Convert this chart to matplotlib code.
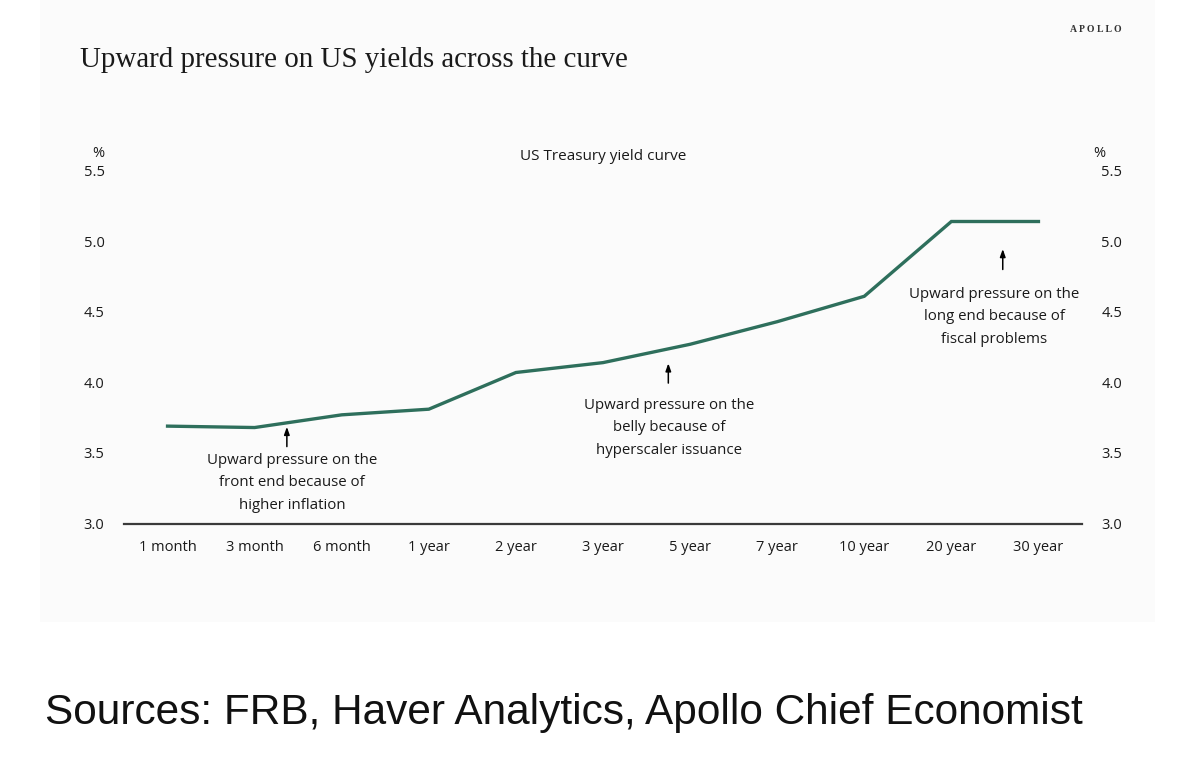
import matplotlib
matplotlib.use("Agg")
import matplotlib.pyplot as plt
from matplotlib.patches import Rectangle

# tenors and yields (%)
tenors = ["1 month", "3 month", "6 month", "1 year", "2 year", "3 year",
          "5 year", "7 year", "10 year", "20 year", "30 year"]
yields = [3.69, 3.68, 3.77, 3.81, 4.07, 4.14, 4.27, 4.43, 4.61, 5.14, 5.14]
y_ticks = [3.0, 3.5, 4.0, 4.5, 5.0, 5.5]
y_tick_labels = ["3.0", "3.5", "4.0", "4.5", "5.0", "5.5"]

line_color = "#2e6f5c"
text_color = "#1a1a1a"
sans = ["Open Sans", "DejaVu Sans"]

fig = plt.figure(figsize=(12, 7.81), dpi=100)
fig.patch.set_facecolor("white")

# faint panel behind the chart
fig.patches.append(Rectangle((40 / 1200, 1 - 622 / 781), 1115 / 1200, 622 / 781,
                             transform=fig.transFigure, facecolor="#fbfbfb",
                             edgecolor="none", zorder=-10))

ax = fig.add_axes([124 / 1200, 1 - 523.5 / 781, 958 / 1200, 352.8 / 781])
ax.set_facecolor("none")

x = list(range(len(tenors)))
ax.plot(x, yields, color=line_color, lw=2.4, solid_joinstyle="miter")

ax.set_xlim(-0.5, 10.5)
ax.set_ylim(3.0, 5.5)
for s in ["top", "right", "left"]:
    ax.spines[s].set_visible(False)
ax.spines["bottom"].set_color("#3a3a3a")
ax.spines["bottom"].set_linewidth(1.6)

ax.set_xticks(x)
ax.set_xticklabels(tenors, fontfamily=sans, fontsize=10.5, color=text_color)
ax.set_yticks(y_ticks)
ax.set_yticklabels(y_tick_labels, fontfamily=sans, fontsize=10.5, color=text_color)
ax.tick_params(axis="x", length=0, pad=12)
ax.tick_params(axis="y", length=0, pad=14, labelleft=True, labelright=True)

# percent markers above the y axes
ax.text(-0.02, 1.05, "%", transform=ax.transAxes, ha="right", va="center",
        fontfamily=sans, fontsize=10.5, color=text_color)
ax.text(1.012, 1.05, "%", transform=ax.transAxes, ha="left", va="center",
        fontfamily=sans, fontsize=10.5, color=text_color)

ax.text(0.5, 1.04, "US Treasury yield curve", transform=ax.transAxes,
        ha="center", va="center", fontfamily=sans, fontsize=11, color=text_color)

# annotations: arrow x, arrow bottom, arrow tip, text x, middle-line y
arrow = dict(arrowstyle="-|>,head_width=0.16,head_length=0.45", color="black",
             lw=1.1, shrinkA=0, shrinkB=0)
notes = [
    (1.37, 3.545, 3.685, 1.43, 3.287,
     "Upward pressure on the\nfront end because of\nhigher inflation"),
    (5.75, 3.995, 4.135, 5.76, 3.677,
     "Upward pressure on the\nbelly because of\nhyperscaler issuance"),
    (9.59, 4.80, 4.945, 9.49, 4.465,
     "Upward pressure on the\nlong end because of\nfiscal problems"),
]
for ax_x, y0, y1, tx, ty, txt in notes:
    ax.annotate("", xy=(ax_x, y1), xytext=(ax_x, y0), arrowprops=arrow)
    ax.text(tx, ty, txt, ha="center", va="center", multialignment="center",
            fontfamily=sans, fontsize=10.8, color=text_color, linespacing=1.68)

# title, logo, source
fig.text(80 / 1200, 1 - 60 / 781, "Upward pressure on US yields across the curve",
         ha="left", va="center", fontfamily="Liberation Serif", fontsize=20.9,
         color=text_color)
fig.text(1122 / 1200, 1 - 29 / 781, "A P O L L O", ha="right", va="center",
         fontfamily="Liberation Serif", fontsize=7, fontweight="bold",
         color="#333333")
fig.text(45 / 1200, 1 - 713 / 781,
         "Sources: FRB, Haver Analytics, Apollo Chief Economist",
         ha="left", va="center", fontfamily="Liberation Sans", fontsize=30.5,
         color="#111111")

fig.savefig("out.png", dpi=100)
